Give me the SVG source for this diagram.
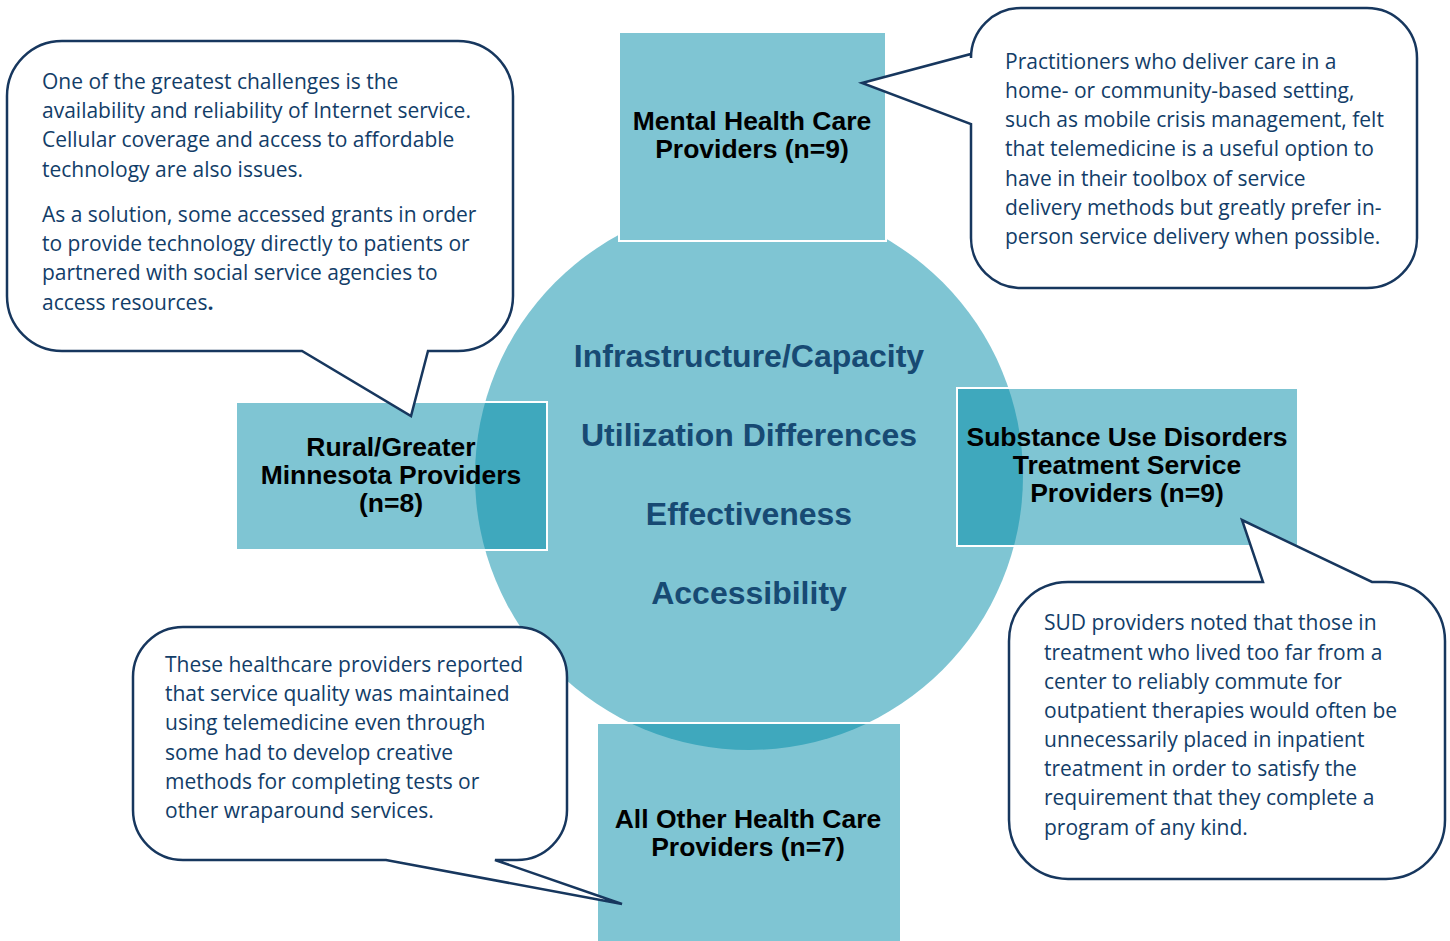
<svg xmlns="http://www.w3.org/2000/svg" width="1450" height="941" viewBox="0 0 1450 941">
<style>
.box{fill:#7FC5D3;stroke:#FFFFFF;stroke-width:2}
.ov{fill:#3FA8BD}
.lbl{font-family:"Liberation Sans",Arial,sans-serif;font-weight:bold;font-size:26.5px;fill:#000;text-anchor:middle}
.ctr{font-family:"Liberation Sans",Arial,sans-serif;font-weight:bold;font-size:32px;fill:#174A73;text-anchor:middle}
.call{fill:#FFFFFF;stroke:#17375E;stroke-width:2.5;stroke-linejoin:miter}
.ct{font-family:"Open Sans","Noto Sans",sans-serif;font-size:21px;fill:#123D68}
</style>
<defs>
<clipPath id="circ"><circle cx="749" cy="476" r="274"/></clipPath>
</defs>
<g id="hub">
<circle cx="749" cy="476" r="274" fill="#7FC5D3"/>
</g>
<g id="node-mental">
<rect class="box" x="619" y="32" width="267" height="209"/>
<text class="lbl" x="752" y="130">Mental Health Care</text>
<text class="lbl" x="752" y="158">Providers (n=9)</text>
</g>
<g id="node-rural">
<rect class="box" x="236" y="402" width="311" height="148"/>
<rect class="ov" x="236" y="402" width="311" height="148" clip-path="url(#circ)"/>
<rect x="236" y="402" width="311" height="148" fill="none" stroke="#FFFFFF" stroke-width="2"/>
<text class="lbl" x="391" y="456">Rural/Greater</text>
<text class="lbl" x="391" y="484">Minnesota Providers</text>
<text class="lbl" x="391" y="512">(n=8)</text>
</g>
<g id="node-sud">
<rect class="box" x="957" y="388" width="341" height="158"/>
<rect class="ov" x="957" y="388" width="341" height="158" clip-path="url(#circ)"/>
<rect x="957" y="388" width="341" height="158" fill="none" stroke="#FFFFFF" stroke-width="2"/>
<text class="lbl" x="1127" y="446">Substance Use Disorders</text>
<text class="lbl" x="1127" y="474">Treatment Service</text>
<text class="lbl" x="1127" y="502">Providers (n=9)</text>
</g>
<g id="node-other">
<rect class="box" x="597" y="723" width="304" height="230"/>
<rect class="ov" x="597" y="723" width="304" height="230" clip-path="url(#circ)"/>
<rect x="597" y="723" width="304" height="230" fill="none" stroke="#FFFFFF" stroke-width="2"/>
<text class="lbl" x="748" y="828">All Other Health Care</text>
<text class="lbl" x="748" y="856">Providers (n=7)</text>
</g>
<g id="hub-text">
<text class="ctr" x="749" y="367">Infrastructure/Capacity</text>
<text class="ctr" x="749" y="446">Utilization Differences</text>
<text class="ctr" x="749" y="525">Effectiveness</text>
<text class="ctr" x="749" y="604">Accessibility</text>
</g>
<g id="connectors">
<g id="callout-rural">
<path class="call" d="M62,41 H458 A55,55 0 0 1 513,96 V296 A55,55 0 0 1 458,351 H428 L411,416 L302,351 H62 A55,55 0 0 1 7,296 V96 A55,55 0 0 1 62,41 Z"/>
<text class="ct" x="42" y="89">One of the greatest challenges is the</text>
<text class="ct" x="42" y="118">availability and reliability of Internet service.</text>
<text class="ct" x="42" y="147">Cellular coverage and access to affordable</text>
<text class="ct" x="42" y="177">technology are also issues.</text>
<text class="ct" x="42" y="222">As a solution, some accessed grants in order</text>
<text class="ct" x="42" y="251">to provide technology directly to patients or</text>
<text class="ct" x="42" y="280">partnered with social service agencies to</text>
<text class="ct" x="42" y="310">access resources<tspan font-weight="bold">.</tspan></text>
</g>
<g id="callout-mental">
<path class="call" d="M1021,8 H1367 A50,50 0 0 1 1417,58 V238 A50,50 0 0 1 1367,288 H1021 A50,50 0 0 1 971,238 V124 L862,83 L971,54 V58 A50,50 0 0 1 1021,8 Z"/>
<text class="ct" x="1005" y="69">Practitioners who deliver care in a</text>
<text class="ct" x="1005" y="98">home- or community-based setting,</text>
<text class="ct" x="1005" y="127">such as mobile crisis management, felt</text>
<text class="ct" x="1005" y="156">that telemedicine is a useful option to</text>
<text class="ct" x="1005" y="186">have in their toolbox of service</text>
<text class="ct" x="1005" y="215">delivery methods but greatly prefer in-</text>
<text class="ct" x="1005" y="244">person service delivery when possible.</text>
</g>
<g id="callout-sud">
<path class="call" d="M1068,582 H1263 L1242,520 L1372,582 H1386 A59,59 0 0 1 1445,641 V820 A59,59 0 0 1 1386,879 H1068 A59,59 0 0 1 1009,820 V641 A59,59 0 0 1 1068,582 Z"/>
<text class="ct" x="1044" y="630">SUD providers noted that those in</text>
<text class="ct" x="1044" y="660">treatment who lived too far from a</text>
<text class="ct" x="1044" y="689">center to reliably commute for</text>
<text class="ct" x="1044" y="718">outpatient therapies would often be</text>
<text class="ct" x="1044" y="747">unnecessarily placed in inpatient</text>
<text class="ct" x="1044" y="776">treatment in order to satisfy the</text>
<text class="ct" x="1044" y="805">requirement that they complete a</text>
<text class="ct" x="1044" y="835">program of any kind.</text>
</g>
<g id="callout-other">
<path class="call" d="M183,627 H517 A50,50 0 0 1 567,677 V810 A50,50 0 0 1 517,860 H495 L622,904 L386,860 H183 A50,50 0 0 1 133,810 V677 A50,50 0 0 1 183,627 Z"/>
<text class="ct" x="165" y="672">These healthcare providers reported</text>
<text class="ct" x="165" y="701">that service quality was maintained</text>
<text class="ct" x="165" y="730">using telemedicine even through</text>
<text class="ct" x="165" y="760">some had to develop creative</text>
<text class="ct" x="165" y="789">methods for completing tests or</text>
<text class="ct" x="165" y="818">other wraparound services.</text>
</g>
</g>
</svg>
